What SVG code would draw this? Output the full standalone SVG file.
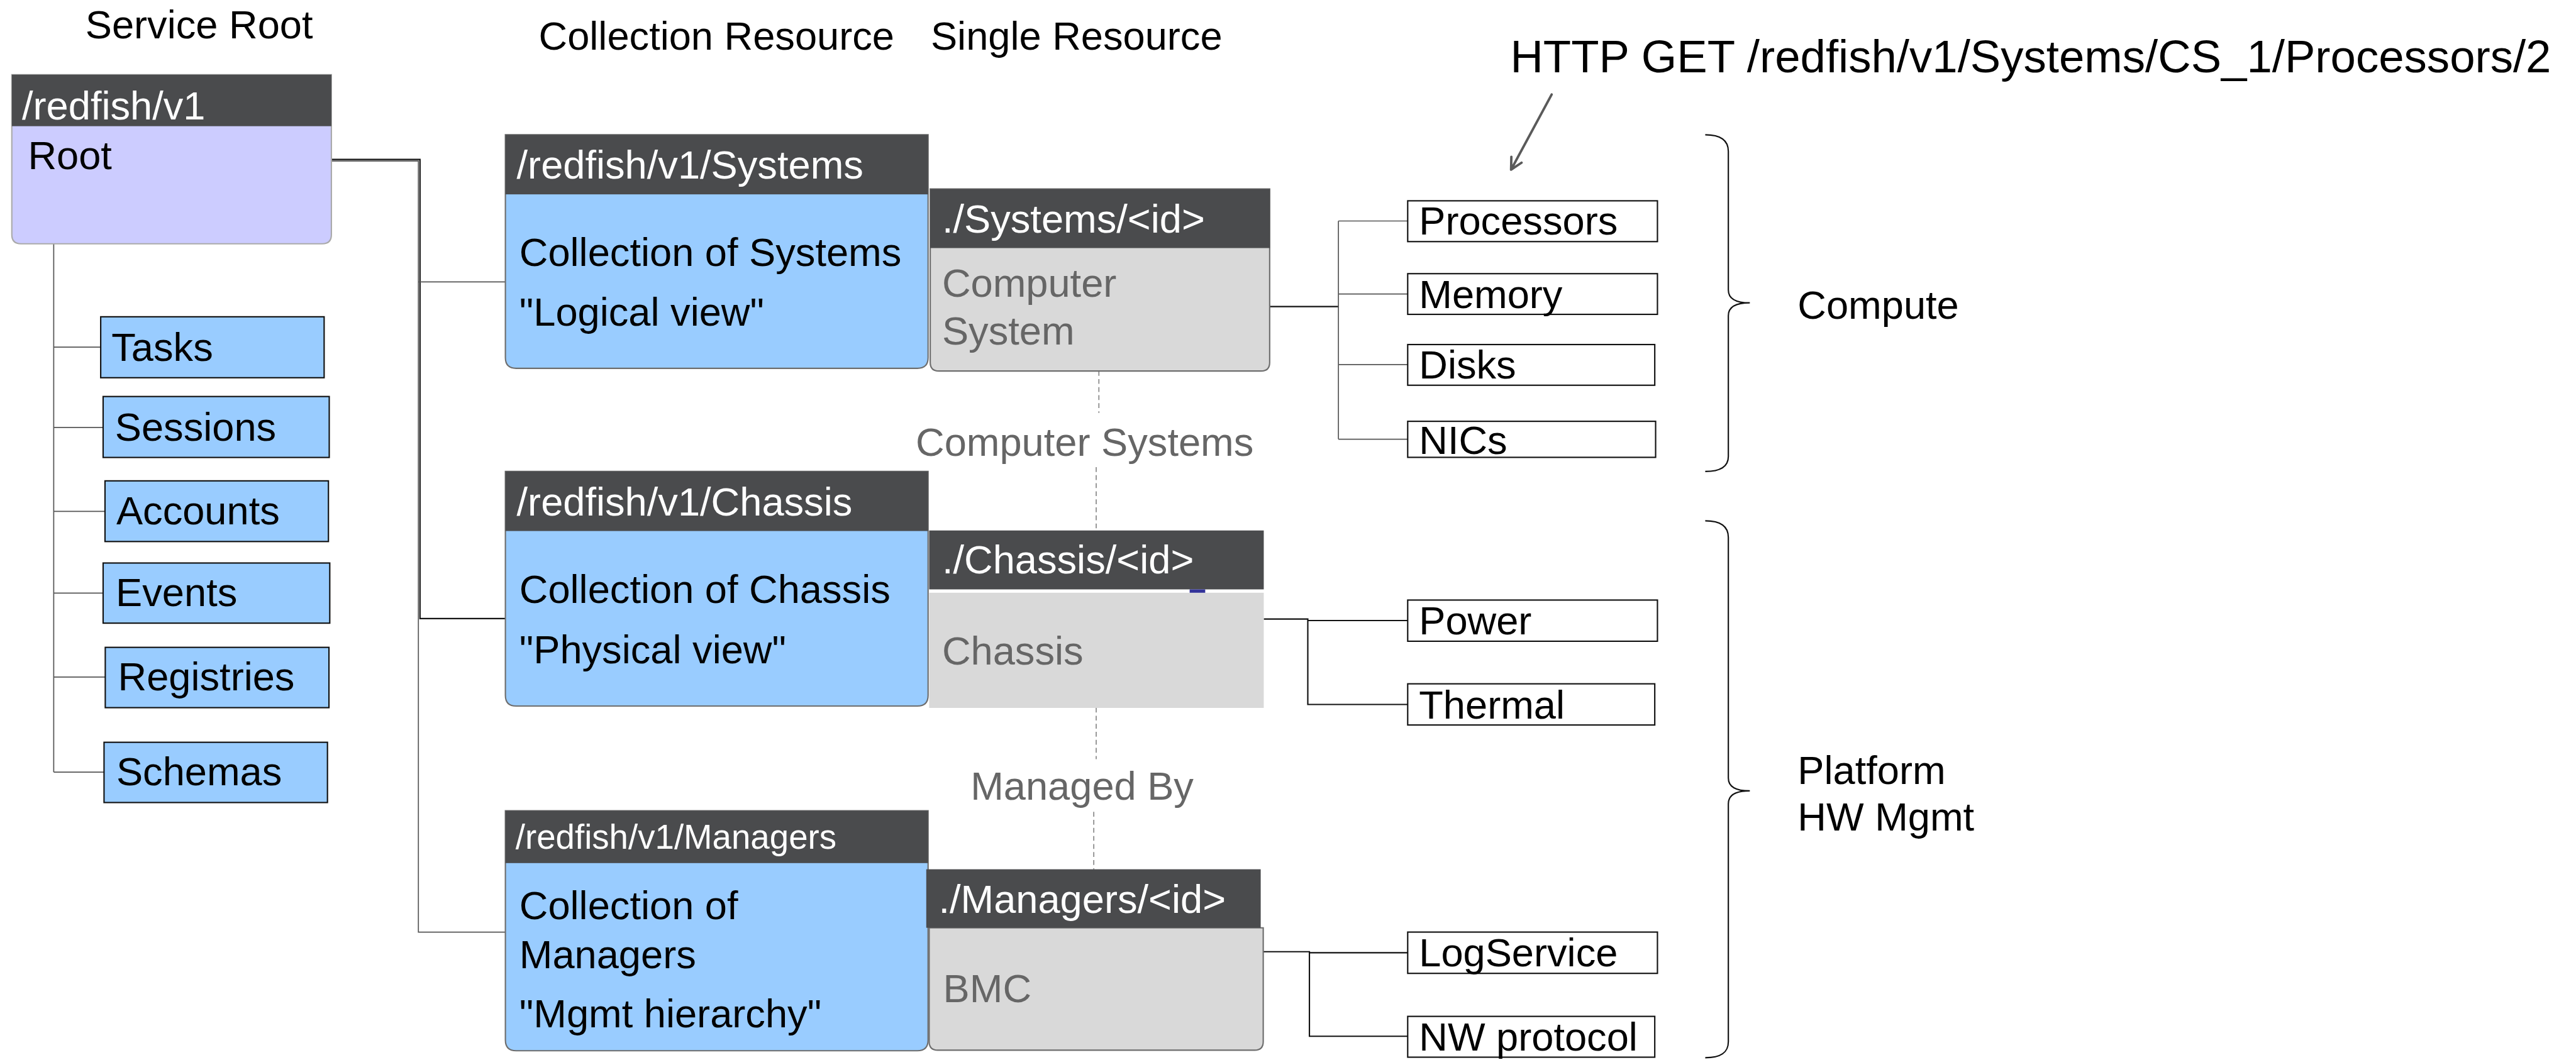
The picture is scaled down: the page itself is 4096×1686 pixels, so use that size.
<svg xmlns="http://www.w3.org/2000/svg" width="4096" height="1686" viewBox="0 0 4096 1686">
<style>
text{font-family:"Liberation Sans",Arial,sans-serif;font-size:74px;fill:#000}
.hd{fill:#4a4b4d}
.ht{fill:#fff}
.gt{fill:#666}
.big{font-size:85px}
.sm{font-size:64px}
.coll{fill:#99ccff;stroke:#6e6e6e;stroke-width:2.5}
.single{fill:#d9d9d9;stroke:#6e6e6e;stroke-width:2.5}
.leaf{fill:#99ccff;stroke:#111;stroke-width:2.5}
.wleaf{fill:#fff;stroke:#111;stroke-width:2.5}
.ln{fill:none;stroke:#111;stroke-width:2.5}
.lg{fill:none;stroke:#555;stroke-width:2}
.dash{fill:none;stroke:#888;stroke-width:2;stroke-dasharray:9 6}
.brace{fill:none;stroke:#111;stroke-width:2.5}
</style>
<rect width="4096" height="1686" fill="#fff"/>
<g transform="scale(0.854)">
<g id="labels">
<text x="159" y="72">Service Root</text>
<text x="1003" y="92">Collection Resource</text>
<text x="1733" y="92">Single Resource</text>
<text class="big" x="2812" y="135">HTTP GET /redfish/v1/Systems/CS_1/Processors/2</text>
<text class="gt" x="1705" y="849">Computer Systems</text>
<text class="gt" x="1807" y="1490">Managed By</text>
<text x="3347" y="594">Compute</text>
<text x="3347" y="1460">Platform</text>
<text x="3347" y="1547">HW Mgmt</text>
</g>
<g id="connectors">
<path class="lg" d="M100 454 V1438 M100 646.6 H187 M100 796 H192 M100 952.5 H195 M100 1104.7 H192 M100 1261 H196 M100 1438 H194"/>
<path class="ln" d="M617 297 H782 V1152 H941"/>
<path class="lg" d="M617 300 H779 V1736 H941 M779 525 H941"/>
<path class="ln" d="M2364 571 H2492"/>
<path class="lg" d="M2492 411.6 V818 M2492 411.6 H2621 M2492 547.6 H2621 M2492 679 H2621 M2492 818 H2621"/>
<path class="ln" d="M2353 1153 H2435 V1312 H2621 M2435 1155.7 H2621"/>
<path class="ln" d="M2352 1772.5 H2438 V1930 H2621 M2438 1774.5 H2621"/>
<path class="dash" d="M2046 691 V769 M2041 870 V988 M2041 1318 V1414 M2036.5 1512 V1619"/>
<path d="M2889 176 L2813.5 316 M2814 292 L2813.5 316 L2833 303" fill="none" stroke="#5a5a5a" stroke-width="4.5" stroke-linecap="round" stroke-linejoin="round"/>
<path class="brace" d="M3175 251 C3205 251 3218 262 3218 282 L3218 540 C3218 556 3232 564 3258 564 C3232 564 3218 572 3218 588 L3218 850 C3218 868 3205 878 3175 878"/>
<path class="brace" d="M3175 970 C3205 970 3218 981 3218 1001 L3218 1449 C3218 1465 3232 1473 3258 1473 C3232 1473 3218 1481 3218 1497 L3218 1940 C3218 1960 3205 1970 3175 1970"/>
</g>
<g id="root">
<path d="M22 139 H617 V437 Q617 454 600 454 H39 Q22 454 22 437 Z" fill="#ccccff" stroke="#aaa" stroke-width="2.5"/>
<rect class="hd" x="22" y="139" width="595" height="96"/>
<text class="ht" x="41" y="223">/redfish/v1</text>
<text x="52" y="315">Root</text>
</g>
<g id="tasks"><rect class="leaf" x="187.5" y="590" width="416" height="113.5"/><text x="207.6" y="672">Tasks</text></g>
<g id="sessions"><rect class="leaf" x="192" y="738.5" width="421" height="113.5"/><text x="214" y="821">Sessions</text></g>
<g id="accounts"><rect class="leaf" x="195.5" y="895.6" width="416" height="113"/><text x="216.5" y="977">Accounts</text></g>
<g id="events"><rect class="leaf" x="192" y="1048.6" width="422" height="112"/><text x="215.6" y="1129">Events</text></g>
<g id="registries"><rect class="leaf" x="196" y="1205.7" width="416.5" height="112.3"/><text x="219.6" y="1286">Registries</text></g>
<g id="schemas"><rect class="leaf" x="193.7" y="1382.5" width="416" height="112.2"/><text x="216.5" y="1463">Schemas</text></g>
<g id="systems-collection">
<path class="coll" d="M941 251 H1728 V666 Q1728 686 1708 686 H961 Q941 686 941 666 Z"/>
<rect class="hd" x="941" y="251" width="787" height="111"/>
<text class="ht" x="962" y="332">/redfish/v1/Systems</text>
<text x="967" y="495">Collection of Systems</text>
<text x="967" y="606">"Logical view"</text>
</g>
<g id="chassis-collection">
<path class="coll" d="M941 878 H1728 V1295 Q1728 1315 1708 1315 H961 Q941 1315 941 1295 Z"/>
<rect class="hd" x="941" y="878" width="787" height="111"/>
<text class="ht" x="962" y="960">/redfish/v1/Chassis</text>
<text x="967" y="1123">Collection of Chassis</text>
<text x="967" y="1235">"Physical view"</text>
</g>
<g id="managers-collection">
<path class="coll" d="M941 1510 H1728 V1937 Q1728 1957 1708 1957 H961 Q941 1957 941 1937 Z"/>
<rect class="hd" x="941" y="1510" width="787" height="97.5"/>
<text class="ht sm" x="960" y="1581">/redfish/v1/Managers</text>
<text x="967" y="1712">Collection of</text>
<text x="967" y="1803">Managers</text>
<text x="967" y="1913">"Mgmt hierarchy"</text>
</g>
<g id="system-single">
<path class="single" d="M1732 352 H2364 V675 Q2364 691 2348 691 H1748 Q1732 691 1732 675 Z"/>
<rect class="hd" x="1732" y="352" width="632.5" height="110"/>
<text class="ht" x="1754" y="433">./Systems/&lt;id&gt;</text>
<text class="gt" x="1754" y="553">Computer</text>
<text class="gt" x="1754" y="642">System</text>
</g>
<g id="chassis-single">
<rect class="hd" x="1730" y="988" width="623" height="109.7"/>
<rect x="1730" y="1104" width="623" height="214.5" fill="#d9d9d9"/>
<rect x="2215" y="1097.7" width="29" height="6.3" fill="#333399"/>
<text class="ht" x="1754" y="1068">./Chassis/&lt;id&gt;</text>
<text class="gt" x="1754" y="1238">Chassis</text>
</g>
<g id="manager-single">
<path class="single" d="M1730 1728 H2352 V1940 Q2352 1956 2336 1956 H1746 Q1730 1956 1730 1940 Z"/>
<rect class="hd" x="1724.6" y="1619" width="622.7" height="109"/>
<text class="ht" x="1747.6" y="1700">./Managers/&lt;id&gt;</text>
<text class="gt" x="1756" y="1866">BMC</text>
</g>
<g id="processors"><rect class="wleaf" x="2621" y="374" width="465" height="76"/><text x="2642" y="437">Processors</text></g>
<g id="memory"><rect class="wleaf" x="2621" y="509.7" width="465" height="75.8"/><text x="2642" y="574">Memory</text></g>
<g id="disks"><rect class="wleaf" x="2621" y="641.7" width="460" height="75.8"/><text x="2642" y="705">Disks</text></g>
<g id="nics"><rect class="wleaf" x="2621" y="784.7" width="461.6" height="67.1"/><text x="2642" y="845">NICs</text></g>
<g id="power"><rect class="wleaf" x="2621" y="1117.6" width="465" height="76.7"/><text x="2642" y="1182">Power</text></g>
<g id="thermal"><rect class="wleaf" x="2621" y="1273.6" width="460" height="76.7"/><text x="2642" y="1338">Thermal</text></g>
<g id="logservice"><rect class="wleaf" x="2621" y="1736" width="465" height="76.9"/><text x="2642" y="1800">LogService</text></g>
<g id="nwprotocol"><rect class="wleaf" x="2621" y="1893" width="460" height="76"/><text x="2642" y="1957">NW protocol</text></g>
</g>
</svg>
